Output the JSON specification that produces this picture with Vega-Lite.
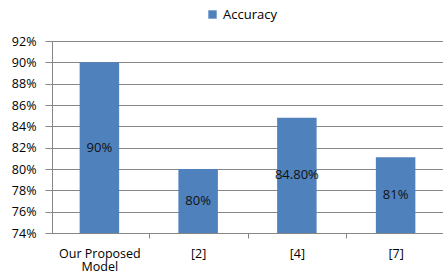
{
  "$schema": "https://vega.github.io/schema/vega-lite/v6.json",
  "width": 391,
  "height": 192,
  "autosize": "none",
  "padding": {"left": 52, "top": 41, "right": 0, "bottom": 46},
  "background": "white",
  "config": {
    "font": "Open Sans",
    "view": {"stroke": null},
    "axis": {
      "labelFont": "Open Sans",
      "labelFontSize": 12.5,
      "labelColor": "#000000",
      "domainColor": "#868686",
      "tickColor": "#868686",
      "gridColor": "#868686",
      "labelOverlap": false,
      "title": null
    }
  },
  "data": {
    "values": [
      {"model": "Our Proposed Model", "accuracy": 90, "label": "90%", "series": "Accuracy"},
      {"model": "[2]", "accuracy": 80, "label": "80%", "series": "Accuracy"},
      {"model": "[4]", "accuracy": 84.8, "label": "84.80%", "series": "Accuracy"},
      {"model": "[7]", "accuracy": 81.1, "label": "81%", "series": "Accuracy"}
    ]
  },
  "encoding": {
    "x": {
      "field": "model",
      "type": "nominal",
      "sort": null,
      "scale": {"paddingInner": 0.6, "paddingOuter": 0.28},
      "axis": {
        "labelAngle": 0,
        "ticks": true,
        "tickSize": 5,
        "tickWidth": 1,
        "tickColor": "#868686",
        "tickOffset": 49.4,
        "labelOffset": -49.4,
        "labelPadding": 9,
        "labelLineHeight": 13,
        "labelBaseline": "top",
        "labelExpr": "datum.value == 'Our Proposed Model' ? ['Our Proposed', 'Model'] : datum.value"
      }
    }
  },
  "layer": [
    {
      "mark": {"type": "bar"},
      "encoding": {
        "y": {
          "field": "accuracy",
          "type": "quantitative",
          "scale": {"domain": [74, 92], "zero": false, "nice": false},
          "axis": {
            "values": [74, 76, 78, 80, 82, 84, 86, 88, 90, 92],
            "labelExpr": "datum.value + '%'",
            "grid": true,
            "tickSize": 7,
            "labelPadding": 9,
            "labelOverlap": false
          }
        },
        "y2": {"datum": 74},
        "color": {
          "field": "series",
          "type": "nominal",
          "scale": {"range": ["#4F81BD"]},
          "legend": {
            "orient": "none",
            "legendX": 154,
            "legendY": -33,
            "title": null,
            "symbolType": "square",
            "symbolSize": 70,
            "symbolStrokeWidth": 0,
            "labelFontSize": 13,
            "labelFont": "Open Sans",
            "labelColor": "#000000"
          }
        }
      }
    },
    {
      "transform": [{"calculate": "(datum.accuracy + 74) / 2", "as": "labelPos"}],
      "mark": {"type": "text", "fontSize": 13, "color": "#111111", "font": "Open Sans", "baseline": "middle"},
      "encoding": {
        "y": {
          "field": "labelPos",
          "type": "quantitative",
          "scale": {"domain": [74, 92], "zero": false, "nice": false},
          "axis": {
            "values": [74, 76, 78, 80, 82, 84, 86, 88, 90, 92],
            "labelExpr": "datum.value + '%'",
            "grid": true,
            "tickSize": 7,
            "labelPadding": 9,
            "labelOverlap": false
          }
        },
        "text": {"field": "label"}
      }
    }
  ]
}
